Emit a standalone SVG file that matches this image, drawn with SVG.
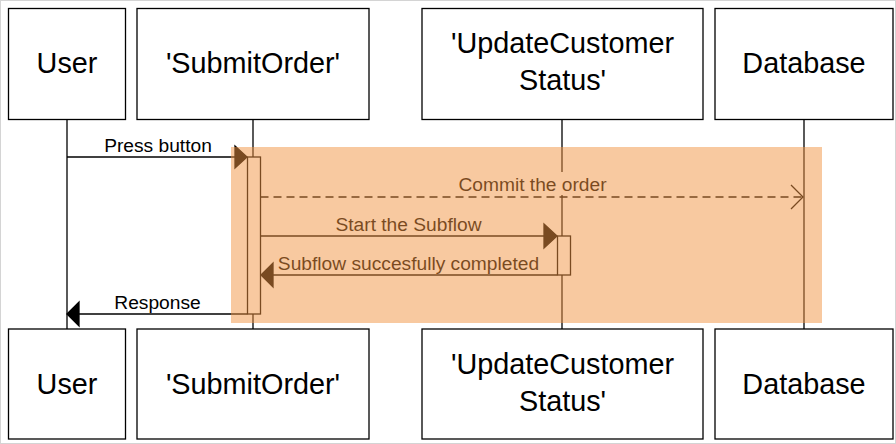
<svg xmlns="http://www.w3.org/2000/svg" width="896" height="444" viewBox="0 0 896 444">
<style>
.box{fill:#fff;stroke:#000;stroke-width:1.3}
.life{stroke:#000;stroke-width:1.3;fill:none}
.act{fill:#fff;stroke:#000;stroke-width:1.3}
.title{font-family:"Liberation Sans",Arial,sans-serif;font-size:28.8px;fill:#000;text-anchor:middle}
.msg{stroke:#000;stroke-width:1.3;fill:none}
.lbl{font-family:"Liberation Sans",Arial,sans-serif;font-size:19.2px;fill:#000;text-anchor:middle}
.head{fill:#000;stroke:#000;stroke-width:1.3;stroke-linejoin:miter}
</style>
<rect x="0.5" y="0.5" width="895" height="443" fill="#fff" stroke="#d4d4d4" stroke-width="1"/>

<g id="user">
  <line class="life" x1="67" y1="119" x2="67" y2="329"/>
  <rect class="box" x="8.5" y="8.5" width="117" height="111"/>
  <text class="title" x="67" y="73">User</text>
  <rect class="box" x="8.5" y="329" width="117" height="110"/>
  <text class="title" x="67" y="394">User</text>
</g>

<g id="submitorder">
  <line class="life" x1="253" y1="119" x2="253" y2="329"/>
  <rect class="box" x="137" y="8.5" width="232" height="111"/>
  <text class="title" x="253" y="73">'SubmitOrder'</text>
  <rect class="box" x="137" y="329" width="232" height="110"/>
  <text class="title" x="253" y="394">'SubmitOrder'</text>
  <rect class="act" x="247.5" y="157" width="13" height="157"/>
</g>

<g id="updatecustomerstatus">
  <line class="life" x1="562" y1="119" x2="562" y2="329"/>
  <rect class="box" x="422" y="8.5" width="281" height="111"/>
  <text class="title" x="562.5" y="53">'UpdateCustomer</text>
  <text class="title" x="562.5" y="90">Status'</text>
  <rect class="box" x="422" y="329" width="281" height="110"/>
  <text class="title" x="562.5" y="374">'UpdateCustomer</text>
  <text class="title" x="562.5" y="411">Status'</text>
  <rect class="act" x="557.5" y="236" width="13" height="39"/>
</g>

<g id="database">
  <line class="life" x1="804" y1="119" x2="804" y2="329"/>
  <rect class="box" x="715" y="8.5" width="178" height="111"/>
  <text class="title" x="804" y="73">Database</text>
  <rect class="box" x="715" y="329" width="178" height="110"/>
  <text class="title" x="804" y="394">Database</text>
</g>

<g id="connectors">
  <line class="msg" x1="67" y1="157" x2="236" y2="157"/>
  <polygon class="head" points="247,157 235,146 235,168"/>
  <text class="lbl" x="158" y="152">Press button</text>

  <rect x="458" y="172" width="150" height="23" fill="#fff"/>
  <line class="msg" x1="260.5" y1="197" x2="802" y2="197" stroke-dasharray="8 5"/>
  <polyline class="msg" points="791,185 803,197 791,209"/>
  <text class="lbl" x="532.5" y="191">Commit the order</text>

  <line class="msg" x1="260.5" y1="236" x2="545" y2="236"/>
  <polygon class="head" points="557,236 544,224 544,248"/>
  <text class="lbl" x="408.5" y="231">Start the Subflow</text>

  <line class="msg" x1="557.5" y1="275" x2="272" y2="275"/>
  <polygon class="head" points="261,275 273,263 273,287"/>
  <text class="lbl" x="408.5" y="270">Subflow succesfully completed</text>

  <line class="msg" x1="247.5" y1="314" x2="78" y2="314"/>
  <polygon class="head" points="67,314 79,302 79,326"/>
  <text class="lbl" x="157.5" y="309">Response</text>
</g>

<g id="highlight">
  <rect x="231" y="147" width="591" height="176" fill="#F19341" fill-opacity="0.5"/>
</g>
</svg>
